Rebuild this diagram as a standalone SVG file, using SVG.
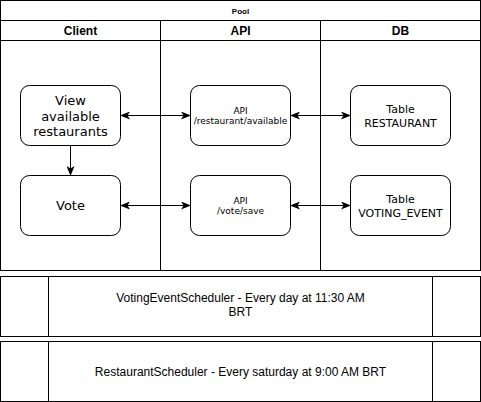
<svg xmlns="http://www.w3.org/2000/svg" width="481" height="402" viewBox="0 0 481 402">
<style>
.ln{fill:none;stroke:#000;stroke-width:1}
.box{fill:#fff;stroke:#000;stroke-width:1}
.node{fill:#fff;stroke:#000;stroke-width:1}
.t{font-family:"DejaVu Sans",Verdana,sans-serif;fill:#000;text-anchor:middle}
.h{font-family:"Liberation Sans",Arial,sans-serif;font-weight:bold;fill:#000;text-anchor:middle}
.s{font-family:"Liberation Sans",Arial,sans-serif;font-size:12px;fill:#000;text-anchor:middle}
.c{fill:none;stroke:#000;stroke-width:1}
</style>
<defs>
<marker id="ah" viewBox="0 0 10 8" refX="9" refY="4" markerWidth="10" markerHeight="8" markerUnits="userSpaceOnUse" orient="auto-start-reverse">
<path d="M0,0 L10,4 L0,8 L2.5,4 Z" fill="#000"/>
</marker>
</defs>
<g id="pool">
<rect class="box" x="0.5" y="0.5" width="480" height="270"/>
<line class="ln" x1="0.5" y1="20.5" x2="480.5" y2="20.5"/>
<line class="ln" x1="0.5" y1="40.5" x2="480.5" y2="40.5"/>
<line class="ln" x1="160.5" y1="20.5" x2="160.5" y2="270.5"/>
<line class="ln" x1="320.5" y1="20.5" x2="320.5" y2="270.5"/>
<text class="h" x="240.5" y="13.5" font-size="8">Pool</text>
</g>
<g id="lane-client"><text class="h" x="80.5" y="35" font-size="12">Client</text></g>
<g id="lane-api"><text class="h" x="240.5" y="35" font-size="12">API</text></g>
<g id="lane-db"><text class="h" x="400.5" y="35" font-size="12">DB</text></g>
<g id="view">
<rect class="node" x="20.5" y="85.5" width="100" height="60" rx="9"/>
<text class="t" font-size="13" x="70.5" y="105">View</text>
<text class="t" font-size="13" x="70.5" y="120.6">available</text>
<text class="t" font-size="13" x="70.5" y="136.2">restaurants</text>
</g>
<g id="vote">
<rect class="node" x="20.5" y="175.5" width="100" height="60" rx="9"/>
<text class="t" font-size="13" x="70.5" y="210">Vote</text>
</g>
<g id="api-available">
<rect class="node" x="190.5" y="85.5" width="100" height="60" rx="9"/>
<text class="t" font-size="9" x="240.5" y="113.5">API</text>
<text class="t" font-size="9" x="240.5" y="124.3">/restaurant/available</text>
</g>
<g id="api-vote">
<rect class="node" x="190.5" y="175.5" width="100" height="60" rx="9"/>
<text class="t" font-size="9" x="240.5" y="203.5">API</text>
<text class="t" font-size="9" x="240.5" y="214.3">/vote/save</text>
</g>
<g id="table-restaurant">
<rect class="node" x="350.5" y="85.5" width="100" height="60" rx="9"/>
<text class="t" font-size="11" x="400.5" y="113.3">Table</text>
<text class="t" font-size="11" x="400.5" y="126.5">RESTAURANT</text>
</g>
<g id="table-voting">
<rect class="node" x="350.5" y="175.5" width="100" height="60" rx="9"/>
<text class="t" font-size="11" x="400.5" y="203.3">Table</text>
<text class="t" font-size="11" x="400.5" y="216.5">VOTING_EVENT</text>
</g>
<g id="connectors">
<line class="c" x1="121" y1="115.5" x2="190" y2="115.5" marker-start="url(#ah)" marker-end="url(#ah)"/>
<line class="c" x1="291" y1="115.5" x2="350" y2="115.5" marker-start="url(#ah)" marker-end="url(#ah)"/>
<line class="c" x1="121" y1="205.5" x2="190" y2="205.5" marker-start="url(#ah)" marker-end="url(#ah)"/>
<line class="c" x1="291" y1="205.5" x2="350" y2="205.5" marker-start="url(#ah)" marker-end="url(#ah)"/>
<line class="c" x1="70.5" y1="146" x2="70.5" y2="175" marker-end="url(#ah)"/>
</g>
<g id="voting-scheduler">
<rect class="box" x="0.5" y="276.5" width="480" height="60"/>
<line class="ln" x1="48.5" y1="276.5" x2="48.5" y2="336.5"/>
<line class="ln" x1="432.5" y1="276.5" x2="432.5" y2="336.5"/>
<text class="s" x="240.5" y="302">VotingEventScheduler - Every day at 11:30 AM</text>
<text class="s" x="240.5" y="316">BRT</text>
</g>
<g id="restaurant-scheduler">
<rect class="box" x="0.5" y="341.5" width="480" height="60"/>
<line class="ln" x1="48.5" y1="341.5" x2="48.5" y2="401.5"/>
<line class="ln" x1="432.5" y1="341.5" x2="432.5" y2="401.5"/>
<text class="s" x="240.5" y="375.5">RestaurantScheduler - Every saturday at 9:00 AM BRT</text>
</g>
</svg>
